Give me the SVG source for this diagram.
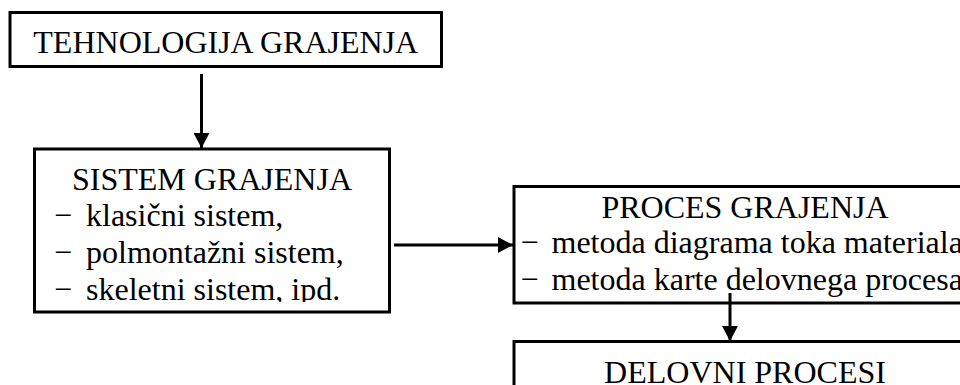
<svg xmlns="http://www.w3.org/2000/svg" width="960" height="385" viewBox="0 0 960 385">
<style>
.box{fill:#fff;stroke:#000;stroke-width:3}
.t{font-family:"Liberation Serif","Times New Roman",serif;font-size:32px;fill:#000}
.c{text-anchor:middle}
.con{stroke:#000;stroke-width:3;fill:none}
</style>
<defs>
<marker id="ah" markerUnits="userSpaceOnUse" markerWidth="16" markerHeight="16" refX="15" refY="8" orient="auto">
<path d="M0,0 L15,8 L0,16 Z" fill="#000"/>
</marker>
<clipPath id="clip2"><rect x="36" y="151" width="352" height="151"/></clipPath>
</defs>
<rect width="960" height="385" fill="#fff"/>
<g id="tehnologija">
<rect class="box" x="10" y="12.5" width="431.5" height="54"/>
<text class="t c" x="225.75" y="53">TEHNOLOGIJA GRAJENJA</text>
</g>
<g id="sistem">
<rect class="box" x="34.5" y="149" width="355" height="163"/>
<g clip-path="url(#clip2)">
<text class="t c" x="212" y="189.5">SISTEM GRAJENJA</text>
<text class="t" y="225.5"><tspan x="54">−</tspan><tspan x="86">klasični sistem,</tspan></text>
<text class="t" y="262.5"><tspan x="54">−</tspan><tspan x="86">polmontažni sistem,</tspan></text>
<text class="t" y="299.5"><tspan x="54">−</tspan><tspan x="86">skeletni sistem, ipd.</tspan></text>
</g>
</g>
<g id="proces">
<rect class="box" x="514" y="186.5" width="462" height="116.5"/>
<text class="t c" x="745" y="218">PROCES GRAJENJA</text>
<text class="t" y="252.5"><tspan x="520.5">−</tspan><tspan x="551.5">metoda diagrama toka materiala</tspan></text>
<text class="t" y="290"><tspan x="520.5">−</tspan><tspan x="551.5">metoda karte delovnega procesa</tspan></text>
</g>
<g id="delovni">
<rect class="box" x="514" y="341.5" width="462" height="100"/>
<text class="t c" x="745" y="383">DELOVNI PROCESI</text>
</g>
<g id="connectors">
<line class="con" x1="201.5" y1="74" x2="201.5" y2="148" marker-end="url(#ah)"/>
<line class="con" x1="394" y1="245" x2="513" y2="245" marker-end="url(#ah)"/>
<line class="con" x1="730" y1="293" x2="730" y2="341" marker-end="url(#ah)"/>
</g>
</svg>
